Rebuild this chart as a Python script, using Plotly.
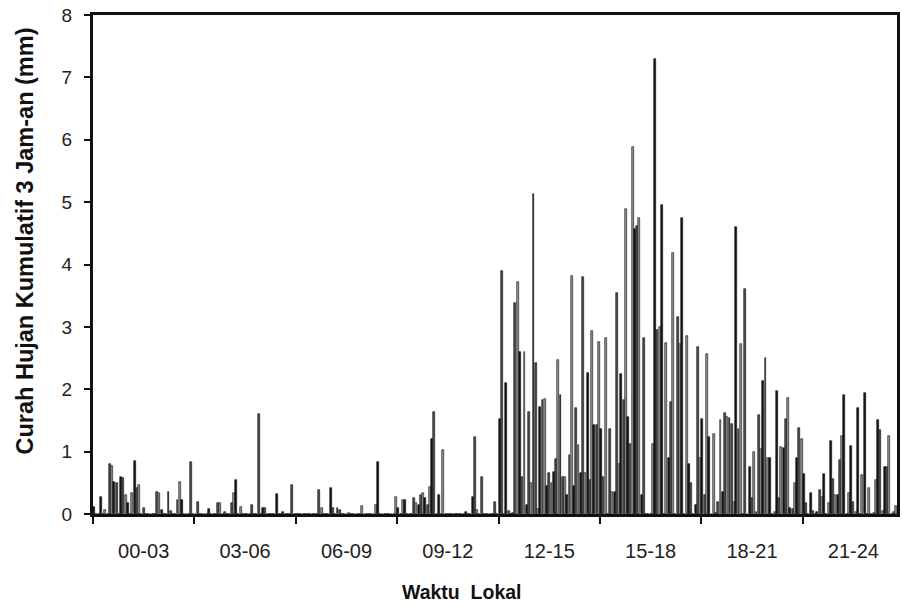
import plotly.graph_objects as go

# ---------------- data ----------------
CATEGORIES = ["00-03", "03-06", "06-09", "09-12", "12-15", "15-18", "18-21", "21-24"]
SLOTS_PER_CATEGORY = 45

RAIN_00_03 = [0.12, 0, 0, 0.28, 0, 0.07, 0, 0.8, 0.77, 0.51, 0.5, 0, 0.6, 0.58, 0.3,
              0.18, 0, 0.33, 0.85, 0.42, 0.47, 0, 0.1, 0, 0, 0, 0, 0, 0.36, 0.33,
              0.07, 0, 0, 0.35, 0.05, 0, 0, 0.22, 0.52, 0.22, 0, 0, 0, 0.84, 0]
RAIN_03_06 = [0, 0.2, 0, 0, 0, 0, 0.08, 0, 0, 0, 0.18, 0.17, 0, 0.03, 0,
              0, 0.18, 0.34, 0.54, 0, 0.12, 0, 0, 0, 0, 0.15, 0, 0, 1.6, 0,
              0.1, 0.1, 0, 0, 0, 0, 0.32, 0, 0, 0.04, 0, 0, 0, 0.46, 0]
RAIN_06_09 = [0, 0, 0, 0, 0, 0, 0, 0, 0, 0, 0.39, 0.1, 0, 0, 0,
              0.41, 0.1, 0, 0.1, 0.07, 0, 0, 0, 0.02, 0, 0, 0, 0, 0, 0.13,
              0, 0, 0, 0, 0, 0.15, 0.83, 0, 0, 0, 0, 0, 0, 0, 0.28]
RAIN_09_12 = [0.1, 0, 0.23, 0.23, 0, 0, 0, 0.26, 0.17, 0.15, 0.3, 0.34, 0.26, 0.15, 0.43,
              1.21, 1.64, 0, 0.3, 0, 1.02, 0, 0, 0, 0, 0, 0, 0, 0, 0,
              0.04, 0, 0, 0.27, 1.23, 0.06, 0, 0.6, 0, 0, 0, 0, 0, 0.2, 0]
RAIN_12_15 = [1.52, 3.9, 0, 2.1, 0.05, 0, 0.02, 3.39, 3.72, 2.6, 0.6, 2.6, 0.15, 1.64, 0.5,
              5.13, 2.42, 0.08, 1.72, 1.83, 1.85, 0.45, 0.65, 0.5, 0.68, 0.88, 2.47, 1.9, 0.6, 0.6,
              0.3, 0.95, 3.81, 0.45, 1.7, 1.1, 0.65, 3.8, 0.65, 2.26, 0.55, 2.93, 1.43, 1.43, 2.76]
RAIN_15_18 = [1.36, 0.6, 2.82, 0, 1.36, 0.35, 0.35, 3.55, 0.8, 2.25, 1.82, 4.89, 1.55, 1.12, 5.89,
              4.57, 4.61, 4.75, 0.3, 2.82, 0, 0, 0, 1.12, 7.3, 2.95, 3.0, 4.95, 0, 2.74,
              0.9, 1.8, 4.19, 0, 3.16, 2.73, 4.74, 0, 2.85, 0.8, 0.5, 0, 0.15, 2.67, 0.9]
RAIN_18_21 = [1.52, 0.3, 2.57, 1.24, 0, 1.28, 0.02, 0.2, 1.5, 0.35, 1.62, 1.55, 1.54, 1.45, 0.2,
              4.6, 1.37, 2.73, 0, 3.6, 0, 0.75, 0.25, 1.0, 0.03, 1.58, 1.05, 2.13, 2.5, 0.9,
              0.9, 0, 0.03, 1.97, 0.25, 1.07, 1.06, 1.52, 1.86, 0.1, 0.08, 0.5, 0.9, 1.38, 1.2]
RAIN_21_24 = [0.64, 0.17, 0, 0.33, 0.05, 0, 0.03, 0.38, 0.27, 0.64, 0, 0.18, 1.17, 0.56, 0.3,
              0.3, 0.86, 1.25, 1.91, 0, 0.33, 1.09, 0.2, 0.03, 1.7, 0, 0.63, 1.94, 0, 0.42,
              0, 0.02, 0.54, 1.5, 1.34, 0.05, 0.75, 0.75, 1.25, 0, 0.03, 0.13, 0.6, 0, 0]

RAIN = [RAIN_00_03, RAIN_03_06, RAIN_06_09, RAIN_09_12,
        RAIN_12_15, RAIN_15_18, RAIN_18_21, RAIN_21_24]

Y_TICKS = [0, 1, 2, 3, 4, 5, 6, 7, 8]

# ---------------- style ----------------
SHADES = ["#141414", "#4a4a4a", "#909090"]
FONT = "Liberation Sans, Arial, sans-serif"

xs, ys, cols = [], [], []
for ci, values in enumerate(RAIN):
    for si, v in enumerate(values):
        xs.append(ci + (si + 0.5) / SLOTS_PER_CATEGORY)
        ys.append(v)
        cols.append(SHADES[si % len(SHADES)])

fig = go.Figure()
fig.add_trace(go.Bar(
    x=xs, y=ys, width=0.85 / SLOTS_PER_CATEGORY,
    marker=dict(color=cols, line=dict(color="#151515", width=0.6)),
    showlegend=False, hoverinfo="x+y",
))

n = len(CATEGORIES)
fig.update_layout(
    width=902, height=613,
    margin=dict(l=93, r=2, t=15, b=99),
    paper_bgcolor="white", plot_bgcolor="white",
    bargap=0,
    font=dict(family=FONT, size=19, color="#111"),
    xaxis=dict(
        range=[0, 7.93],
        tickvals=[i + 0.5 for i in range(n)],
        ticktext=CATEGORIES,
        ticks="outside", ticklen=0,
        ticklabelstandoff=17,
        minor=dict(tickmode="linear", tick0=0, dtick=1, ticks="outside",
                   ticklen=7, tickcolor="#111", tickwidth=1.5),
        showgrid=False, zeroline=False,
        showline=True, linecolor="#111", linewidth=2.5, mirror=True,
        tickfont=dict(family=FONT, size=20, color="#222"),
    ),
    yaxis=dict(
        range=[0, 8],
        tickvals=Y_TICKS,
        ticks="outside", ticklen=6, tickwidth=1.5, tickcolor="#111",
        ticklabelstandoff=8,
        showgrid=False, zeroline=False,
        showline=True, linecolor="#111", linewidth=3, mirror=True,
        tickfont=dict(family=FONT, size=19, color="#222"),
    ),
    annotations=[
        dict(text="<b>Curah Hujan Kumulatif 3 Jam-an (mm)</b>", textangle=-90,
             xref="paper", yref="paper", x=-0.084, y=0.547,
             xanchor="center", yanchor="middle", showarrow=False,
             font=dict(family=FONT, size=23.5, color="#111")),
        dict(text="<b>Waktu  Lokal</b>",
             xref="paper", yref="paper", x=0.4585, y=-0.157,
             xanchor="center", yanchor="middle", showarrow=False,
             font=dict(family=FONT, size=19.5, color="#111")),
    ],
)

fig.write_html(
    "out.html",
    config={"displayModeBar": False},
    post_script="document.body.style.margin='0';document.body.style.padding='0';"
                "document.body.style.overflow='hidden';"
                "document.documentElement.style.overflow='hidden';",
)
